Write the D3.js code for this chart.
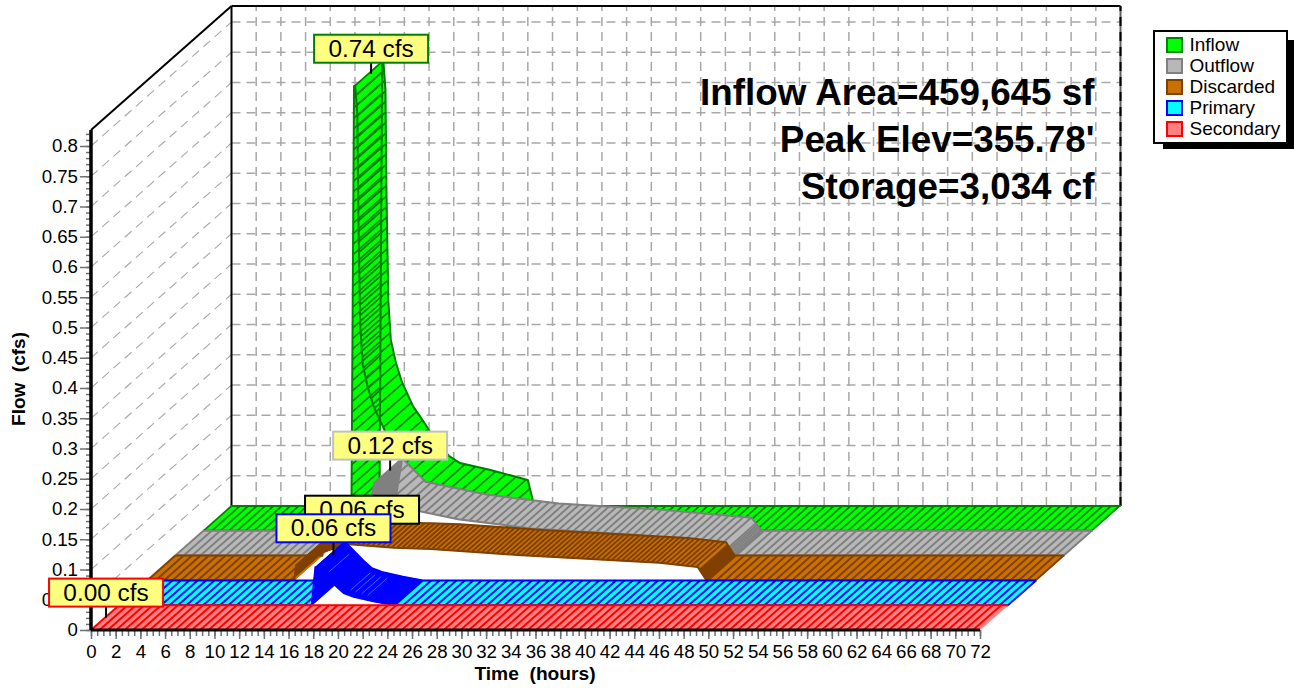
<!DOCTYPE html>
<html><head><meta charset="utf-8">
<script src="https://d3js.org/d3.v7.min.js"></script>
<style>html,body{margin:0;padding:0;background:#fff}svg{display:block}text{font-family:"Liberation Sans",Arial,sans-serif}</style>
</head><body><svg id="c" width="1294" height="688"></svg>
<script>
const seriesNames=["Inflow","Outflow","Discarded","Primary","Secondary"];
const peakLabels=["0.74 cfs","0.12 cfs","0.06 cfs","0.06 cfs","0.00 cfs"];
const infoLines=["Inflow Area=459,645 sf","Peak Elev=355.78'","Storage=3,034 cf"];
const inflowT=[0,11.98,12.2,12.3,12.47,12.55,12.7,12.9,13.3,13.8,14.7,15.7,16.6,17.6,18.5,20.9,24,24.4,25,72];
const inflowV=[0,0,.735,.735,.688,.52,.34,.275,.238,.205,.165,.135,.105,.083,.071,.06,.043,.01,0,0];
const outflowT=[0,11.9,12.05,15.6,16.1,18,22.9,28.8,36.9,44.4,45.2,72];
const outflowV=[0,0,.03,.057,.12,.081,.06,.045,.035,.0215,0,0];
const discardedT=[0,11.9,12.08,14,16.1,20,23,30,41.5,44.6,45.3,72];
const discardedV=[0,0,.025,.045,.06,.054,.052,.042,.029,.022,0,0];
const primaryT=[0,15.6,15.9,16.2,17.5,18.2,19,20.7,22.3,72];
const primaryV=[0,0,.062,.06,.033,.02,.014,.006,0,0];
const secondaryT=[0,72];
const secondaryV=[0,0];
const fills=["#00ff00","#b8b8b8","#c87000","#00ffff","#ff8080"];
const strokes=["#008000","#808080","#804000","#0000ff","#ff0000"];
const labelBorders=["#008000","#c0c0c0","#000000","#0000ff","#ff0000"];
const labelGaps=[11,11,8,13,11];
const labelShifts=[3,2,2,4,1];
const hatchRanges=[
 [[11.9,24.4,10.5]],
 [[11.9,16.1,1.5],[16.1,44.4,7.5],[44.4,45.3,2]],
 [[11.9,16.1,1],[16.1,44.6,5],[44.6,45.4,1]],
 [[15.6,22.3,.8]],
 []
];
const primaryAccentT=[16.7,18.4,18.8,19.3,19.8];
const yTickValues=d3.range(0,17).map(i=>i*.05);
const xTickValues=d3.range(0,37).map(i=>i*2);

const svg=d3.select("#c");
const x=d3.scaleLinear().domain([0,72]).range([91,980]);
const y=d3.scaleLinear().domain([0,.8]).range([630,146]);
const depthX=d3.scaleLinear().domain([0,5]).range([0,140.5]);
const depthY=d3.scaleLinear().domain([0,5]).range([0,-124]);
const P=(t,v,d)=>[x(t)+depthX(d),y(v)+depthY(d)];
const vTop=y.invert(130);
const GRID="#a8a8a8";

// back wall grid
const grid=svg.append("g").attr("fill","none").attr("stroke",GRID).attr("stroke-dasharray","9 6");
yTickValues.filter(v=>v>0).forEach(v=>{
  grid.append("line").attr("stroke-width",1.1).attr("x1",P(0,v,0)[0]).attr("y1",P(0,v,0)[1]).attr("x2",P(0,v,5)[0]).attr("y2",P(0,v,5)[1]);
  grid.append("line").attr("stroke-width",1.5).attr("x1",P(0,v,5)[0]).attr("y1",P(0,v,5)[1]).attr("x2",P(72,v,5)[0]).attr("y2",P(72,v,5)[1]);
});
xTickValues.filter(t=>t>0).forEach(t=>{
  grid.append("line").attr("stroke-width",1.5).attr("x1",P(t,0,5)[0]).attr("y1",P(t,0,5)[1]).attr("x2",P(t,vTop,5)[0]).attr("y2",P(t,vTop,5)[1]);
});
// frame
const L=(a,b,c,w)=>svg.append("line").attr("x1",a[0]).attr("y1",a[1]).attr("x2",b[0]).attr("y2",b[1]).attr("stroke",c).attr("stroke-width",w);
L(P(0,vTop,0),P(0,vTop,5),"#000",2);
L(P(0,vTop,5),P(72,vTop,5),"#000",2);
L(P(0,0,5),P(0,vTop,5),"#000",2);
L(P(72,0,5),P(72,vTop,5),"#606060",2);
L(P(72,0,5),P(72,vTop,5),"#000",2).attr("stroke-dasharray","9 6");
L(P(0,0,5),P(72,0,5),"#888",2);

// axes
const yAxisMinor=d3.axisLeft(y).tickValues(d3.range(0,83).map(i=>i*.01)).tickSize(5).tickFormat("");
const yAxis=d3.axisLeft(y).tickValues(yTickValues).tickSize(11).tickPadding(2).tickFormat(v=>String(+v.toFixed(2)));
const xAxisMinor=d3.axisBottom(x).tickValues(d3.range(0,145).map(i=>i*.5)).tickSize(6).tickFormat("");
const xAxis=d3.axisBottom(x).tickValues(xTickValues).tickSize(9).tickPadding(6).tickFormat(d3.format("d"));
function styleAxis(g){g.select(".domain").remove();g.selectAll("line").attr("stroke","#707070").attr("stroke-width",1.5);g.selectAll("text").attr("font-size",18.67).attr("fill","#000").attr("font-family","Liberation Sans");}
svg.append("g").attr("transform","translate(91,0)").call(yAxisMinor).call(styleAxis);
svg.append("g").attr("transform","translate(91,0)").call(yAxis).call(styleAxis);

// ribbons
const layers=[[inflowT,inflowV],[outflowT,outflowV],[discardedT,discardedV],[primaryT,primaryV],[secondaryT,secondaryV]];
function sampleHatch(T,V,ranges,d){
  // walk the drawn curve and place a hatch at a fixed on-screen spacing
  const out=[];const spacingAt=t=>{for(const r of ranges){if(t>=r[0]&&t<=r[1])return r[2];}return 8.4;};
  let carry=0;
  for(let i=0;i<T.length-1;i++){
    const a=P(T[i],V[i],d),b=P(T[i+1],V[i+1],d);
    const len=Math.hypot(b[0]-a[0],b[1]-a[1]);
    let s=carry;
    while(s<len){
      const f=s/len,t=T[i]+(T[i+1]-T[i])*f,v=V[i]+(V[i+1]-V[i])*f;
      out.push([t,v]);
      s+=spacingAt(t);
    }
    carry=s-len;
  }
  return out;
}
layers.forEach((s,i)=>{
  const T=s[0],V=s[1];
  const d0=4-i,d1=5-i;
  const g=svg.append("g");
  const quads=d3.range(T.length-1);
  g.selectAll("path.q").data(quads).join("path").attr("class","q")
    .attr("d",k=>"M"+[P(T[k],V[k],d0),P(T[k+1],V[k+1],d0),P(T[k+1],V[k+1],d1),P(T[k],V[k],d1)].join("L")+"Z")
    .attr("fill",fills[i]).attr("stroke",fills[i]).attr("stroke-width",.5);
  g.selectAll("line.h").data(sampleHatch(T,V,hatchRanges[i],d0)).join("line").attr("class","h")
    .attr("x1",p=>P(p[0],p[1],d0)[0]).attr("y1",p=>P(p[0],p[1],d0)[1])
    .attr("x2",p=>P(p[0],p[1],d1)[0]).attr("y2",p=>P(p[0],p[1],d1)[1])
    .attr("stroke",strokes[i]).attr("stroke-width",i===0?1.7:2);
  const line=d=>d3.line().x(k=>P(T[k],V[k],d)[0]).y(k=>P(T[k],V[k],d)[1])(d3.range(T.length));
  g.append("path").attr("d",line(d0)).attr("fill","none").attr("stroke",strokes[i]).attr("stroke-width",2);
  g.append("path").attr("d",line(d1)).attr("fill","none").attr("stroke",strokes[i]).attr("stroke-width",2);
  if(i===3){
    const vAt=d3.scaleLinear().domain(T).range(V);
    g.selectAll("line.a").data(primaryAccentT).join("line").attr("class","a")
      .attr("x1",t=>P(t,vAt(t),d0+.15)[0]).attr("y1",t=>P(t,vAt(t),d0+.15)[1])
      .attr("x2",t=>P(t,vAt(t),d1-.15)[0]).attr("y2",t=>P(t,vAt(t),d1-.15)[1])
      .attr("stroke","#2a70ff").attr("stroke-width",1);
  }
});

// x axis and thick y axis over the floor
svg.append("g").attr("transform","translate(0,630)").call(xAxisMinor).call(styleAxis);
svg.append("g").attr("transform","translate(0,630)").call(xAxis).call(styleAxis);
L(P(0,0,0),P(0,vTop,0),"#000",3.5);
L(P(0,0,0),P(72,0,0),"#000",3);

// titles
svg.append("text").attr("x",535).attr("y",680).attr("text-anchor","middle").attr("font-weight","bold").attr("font-size",19.2).text("Time\u00a0\u00a0(hours)");
svg.append("text").attr("transform","translate(25,379) rotate(-90)").attr("text-anchor","middle").attr("font-weight","bold").attr("font-size",19).text("Flow\u00a0\u00a0(cfs)");
infoLines.forEach((t,i)=>svg.append("text").attr("x",1094.5).attr("y",105+i*47).attr("text-anchor","end").attr("font-weight","bold").attr("font-size",36.8).text(t));

// peak labels
layers.forEach((s,i)=>{
  const T=s[0],V=s[1];
  const m=d3.max(V),k=V.indexOf(m);
  const pt=P(T[k],m,4.5-i);
  const cx=pt[0]+labelShifts[i];
  const bh=28,bw=114,by=pt[1]-labelGaps[i]-bh;
  const g=svg.append("g");
  g.append("line").attr("x1",cx).attr("x2",cx).attr("y1",by+bh).attr("y2",pt[1]).attr("stroke","#000").attr("stroke-width",2);
  g.append("rect").attr("x",cx-bw/2).attr("y",by).attr("width",bw).attr("height",bh).attr("fill","#ffff80").attr("stroke",labelBorders[i]).attr("stroke-width",2);
  g.append("text").attr("x",cx).attr("y",by+22).attr("text-anchor","middle").attr("font-size",24.4).text(peakLabels[i]);
});

// legend
const lg=svg.append("g");
lg.append("rect").attr("x",1163).attr("y",40).attr("width",131).attr("height",109).attr("fill","#000");
lg.append("rect").attr("x",1154).attr("y",31).attr("width",133).attr("height",112).attr("fill","#fff").attr("stroke","#000").attr("stroke-width",2);
seriesNames.forEach((n,i)=>{
  lg.append("rect").attr("x",1167).attr("y",38+i*21).attr("width",15).attr("height",14).attr("fill",fills[i]).attr("stroke",strokes[i]).attr("stroke-width",2);
  lg.append("text").attr("x",1189.5).attr("y",51+i*21).attr("font-size",19).text(n);
});
</script></body></html>
